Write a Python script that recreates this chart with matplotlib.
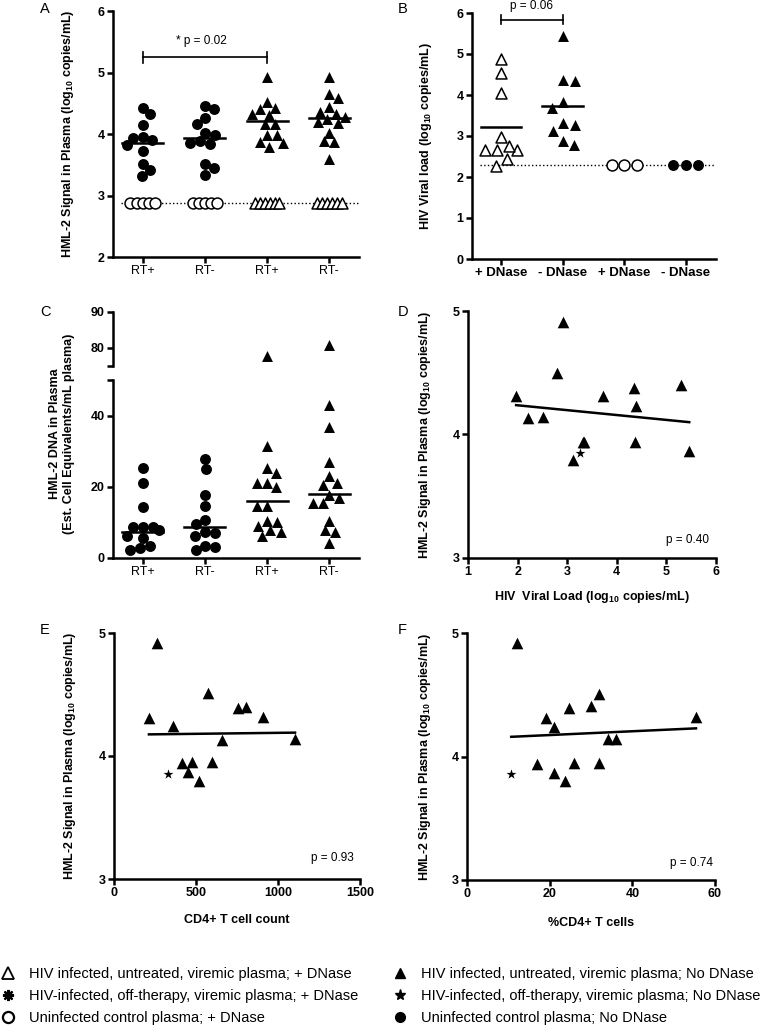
import numpy as np
import matplotlib.pyplot as plt
from matplotlib.lines import Line2D

plt.rcParams['font.family'] = 'Liberation Sans'
plt.rcParams['mathtext.fontset'] = 'custom'
plt.rcParams['mathtext.rm'] = 'Liberation Sans'
plt.rcParams['mathtext.bf'] = 'Liberation Sans:bold'

#### data ####
# A: HML-2 signal (log10 copies/mL), RT+ / RT- for uninfected and HIV plasma
a_labels = ['RT+', 'RT-', 'RT+', 'RT-']
a_uninf_rtpos = [4.43, 4.32, 4.15, 3.95, 3.94, 3.90, 3.82, 3.73, 3.52, 3.41, 3.31]
a_uninf_rtneg = [4.46, 4.41, 4.26, 4.16, 4.02, 3.98, 3.88, 3.86, 3.84, 3.52, 3.44, 3.33]
a_hiv_rtpos = [4.92, 4.52, 4.43, 4.40, 4.32, 4.31, 4.16, 4.16, 3.99, 3.98, 3.87, 3.85, 3.79]
a_hiv_rtneg = [4.93, 4.65, 4.58, 4.44, 4.36, 4.32, 4.28, 4.24, 4.20, 4.18, 4.02, 3.88, 3.87, 3.60]
a_lod = 2.87
a_lod_counts = [5, 5, 6, 6]
a_means = [3.86, 3.93, 4.21, 4.26]

# B: HIV viral load (log10 copies/mL)
b_labels = ['+ DNase', '- DNase', '+ DNase', '- DNase']
b_hiv_dnase = [4.88, 4.54, 4.05, 2.98, 2.65, 2.65, 2.65, 2.75, 2.45, 2.28]
b_hiv_nodnase = [5.45, 4.37, 4.33, 3.83, 3.68, 3.32, 3.28, 3.13, 2.87, 2.77]
b_ctrl_dnase = [2.3, 2.3, 2.3]
b_ctrl_nodnase = [2.3, 2.3, 2.3]
b_means = [3.21, 3.72]
b_lod = 2.3

# C: HML-2 DNA (cell equivalents / mL plasma)
c_labels = ['RT+', 'RT-', 'RT+', 'RT-']
c_uninf_rtpos = [25.4, 21.0, 14.2, 8.6, 8.6, 8.6, 7.9, 6.3, 5.5, 3.5, 2.7, 2.3]
c_uninf_rtneg = [27.9, 25.1, 17.6, 14.5, 10.7, 9.5, 7.2, 6.9, 6.3, 3.5, 3.0, 2.3]
c_hiv_rtpos = [77.8, 31.4, 25.3, 23.9, 21.2, 21.2, 19.9, 14.7, 14.7, 10.5, 10.0, 9.1, 7.9, 7.4, 6.3]
c_hiv_rtneg = [80.8, 43.1, 36.8, 27.1, 22.9, 21.0, 20.6, 17.7, 16.8, 15.4, 15.4, 10.5, 7.9, 7.4, 4.1]
c_centers = [7.4, 8.6, 16.1, 18.0]

# D: HML-2 signal vs HIV viral load
d_vl = [1.97, 2.21, 2.52, 2.80, 2.91, 3.11, 3.31, 3.34, 3.73, 4.34, 4.38, 4.36, 5.30, 5.46]
d_hml = [4.31, 4.13, 4.14, 4.50, 4.91, 3.79, 3.94, 3.94, 4.31, 4.38, 4.23, 3.94, 4.40, 3.87]
d_star_vl = [3.26]
d_star_hml = [3.85]

# E: HML-2 signal vs CD4+ T cell count
e_cd4 = [260, 213, 358, 575, 754, 803, 911, 661, 1104, 413, 474, 449, 600, 520]
e_hml = [4.92, 4.31, 4.24, 4.51, 4.39, 4.40, 4.32, 4.13, 4.14, 3.94, 3.95, 3.87, 3.95, 3.80]
e_star_cd4 = [329]
e_star_hml = [3.85]

# F: HML-2 signal vs %CD4+ T cells
f_pct = [12.1, 19.0, 21.0, 24.7, 29.9, 32.0, 55.4, 34.0, 36.0, 17.0, 25.9, 32.0, 21.0, 23.6]
f_hml = [4.92, 4.31, 4.24, 4.39, 4.41, 4.51, 4.32, 4.14, 4.14, 3.94, 3.95, 3.95, 3.87, 3.80]
f_star_pct = [10.7]
f_star_hml = [3.86]

legend_labels = ['HIV infected, untreated, viremic plasma; + DNase',
                 'HIV-infected, off-therapy, viremic plasma; + DNase',
                 'Uninfected control plasma; + DNase',
                 'HIV infected, untreated, viremic plasma; No DNase',
                 'HIV-infected, off-therapy, viremic plasma; No DNase',
                 'Uninfected control plasma; No DNase']

W, H = 777, 1031
fig = plt.figure(figsize=(W / 100, H / 100), dpi=100)

MS = 62  # marker area
YLAB = r'HML-2 Signal in Plasma (log$_{\mathbf{10}}$ copies/mL)'


def box(l, r, t, b):
    # pixel box -> figure fraction
    return [l / W, 1 - b / H, (r - l) / W, (b - t) / H]


def style(ax, hide_bottom=False):
    for s in ['top', 'right']:
        ax.spines[s].set_visible(False)
    for s in ['left', 'bottom']:
        ax.spines[s].set_linewidth(1.8)
    if hide_bottom:
        ax.spines['bottom'].set_visible(False)
        ax.set_xticks([])
    ax.tick_params(width=1.8, length=4, direction='out', pad=2)
    for t in ax.get_yticklabels():
        t.set_fontweight('bold')
        t.set_fontsize(9)


def swarm(ax, vals, d, wmax=16):
    # beeswarm inside a limited width: returns x offsets (data units)
    bb = ax.get_window_extent()
    x0, x1 = ax.get_xlim()
    y0, y1 = ax.get_ylim()
    px = bb.width / (x1 - x0)
    py = bb.height / (y1 - y0)
    vals = np.asarray(vals, float)
    offs = np.zeros(len(vals))
    placed = []
    side = 1
    grid = list(np.linspace(-wmax, wmax, 33))
    for i in np.argsort(-vals, kind='stable'):
        y = vals[i] * py
        cands = [0.0] + grid
        for xj, yj in placed:
            dy = y - yj
            if abs(dy) < d:
                dx = np.sqrt(d * d - dy * dy)
                cands += [c for c in (xj + dx, xj - dx) if abs(c) <= wmax]
        cands = sorted(cands, key=lambda c: (round(abs(c), 3), -side * c))

        def mind(c):
            if not placed:
                return np.inf
            return min(np.hypot(c - xj, y - yj) for xj, yj in placed)

        ok = [c for c in cands if mind(c) >= d - 1e-6]
        c = ok[0] if ok else max(cands, key=mind)
        if c != 0:
            side = -side
        offs[i] = c
        placed.append((c, y))
    return offs / px


def bold_label(ax, text, axis='y', coord=-0.15):
    if axis == 'y':
        ax.set_ylabel(text, fontweight='bold', fontsize=9)
        ax.yaxis.set_label_coords(coord, 0.5)
    else:
        ax.set_xlabel(text, fontweight='bold', fontsize=9)
        ax.xaxis.set_label_coords(0.5, coord)


#### Panel A ####
axA = fig.add_axes(box(113, 359, 11, 257))
axA.set_xlim(-0.48, 3.48)
axA.set_ylim(2, 6)
groups = [a_uninf_rtpos, a_uninf_rtneg, a_hiv_rtpos, a_hiv_rtneg]
marks = ['o', 'o', '^', '^']
axA.plot([-0.35, 3.48], [a_lod, a_lod], ':', color='black', lw=1, zorder=1)
for i, (vals, m) in enumerate(zip(groups, marks)):
    axA.scatter(i + swarm(axA, vals, 10), vals, marker=m, s=MS, c='black', linewidths=0, zorder=3)
    n = a_lod_counts[i]
    axA.scatter(i + np.linspace(-0.2, 0.2, n), [a_lod] * n, marker=m, s=MS,
                facecolors='white', edgecolors='black', linewidths=1.1, zorder=2)
    axA.plot([i - 0.33, i + 0.33], [a_means[i]] * 2, color='black', lw=1.8, zorder=4)
axA.plot([0, 2], [5.25, 5.25], color='black', lw=1.2)
axA.plot([0, 0], [5.16, 5.34], color='black', lw=1.2)
axA.plot([2, 2], [5.16, 5.34], color='black', lw=1.2)
axA.text(0.95, 5.42, '* p = 0.02', ha='center', va='bottom', fontsize=8.5)
axA.set_xticks(range(4))
axA.set_xticklabels(a_labels, fontsize=9)
axA.set_yticks([2, 3, 4, 5, 6])
style(axA)
bold_label(axA, YLAB, 'y', -0.15)

#### Panel B ####
axB = fig.add_axes(box(472, 716, 13, 259))
axB.set_xlim(-0.47, 3.49)
axB.set_ylim(0, 6)
axB.plot([-0.34, 3.47], [b_lod, b_lod], ':', color='black', lw=1, zorder=1)
b_groups = [b_hiv_dnase, b_hiv_nodnase, b_ctrl_dnase, b_ctrl_nodnase]
b_marks = ['^', '^', 'o', 'o']
b_filled = [False, True, False, True]
for i, (vals, m, f) in enumerate(zip(b_groups, b_marks, b_filled)):
    xo = i + swarm(axB, vals, 12.5)
    if f:
        axB.scatter(xo, vals, marker=m, s=MS, c='black', linewidths=0, zorder=3)
    else:
        axB.scatter(xo, vals, marker=m, s=MS, facecolors='white', edgecolors='black',
                    linewidths=1.1, zorder=3)
for i, mv in enumerate(b_means):
    axB.plot([i - 0.33, i + 0.33], [mv, mv], color='black', lw=1.8, zorder=4)
axB.plot([0, 1], [5.84, 5.84], color='black', lw=1.2, clip_on=False)
axB.plot([0, 0], [5.74, 5.94], color='black', lw=1.2, clip_on=False)
axB.plot([1, 1], [5.74, 5.94], color='black', lw=1.2, clip_on=False)
axB.text(0.5, 6.02, 'p = 0.06', ha='center', va='bottom', fontsize=8.5)
axB.set_xticks(range(4))
axB.set_xticklabels(b_labels, fontsize=9.5, fontweight='bold')
axB.set_yticks(range(7))
style(axB)
bold_label(axB, r'HIV Viral load (log$_{\mathbf{10}}$ copies/mL)', 'y', -0.156)

#### Panel C (broken axis) ####
axCt = fig.add_axes(box(113, 359, 312, 366))
axCb = fig.add_axes(box(113, 359, 380, 558))
for ax in (axCt, axCb):
    ax.set_xlim(-0.48, 3.48)
axCt.set_ylim(75, 90)
axCb.set_ylim(0, 50)
c_groups = [c_uninf_rtpos, c_uninf_rtneg, c_hiv_rtpos, c_hiv_rtneg]
for i, (vals, m) in enumerate(zip(c_groups, marks)):
    vals = np.array(vals)
    lo = vals[vals < 50]
    hi = vals[vals >= 75]
    axCb.scatter(i + swarm(axCb, lo, 10), lo, marker=m, s=MS, c='black', linewidths=0, zorder=3)
    if len(hi):
        axCt.scatter(np.full(len(hi), i), hi, marker=m, s=MS, c='black', linewidths=0, zorder=3)
    axCb.plot([i - 0.33, i + 0.33], [c_centers[i]] * 2, color='black', lw=1.8, zorder=4)
axCt.set_yticks([75, 80, 90])
axCt.set_yticklabels(['', '80', '90'])
axCb.set_yticks([0, 20, 40, 50])
axCb.set_yticklabels(['0', '20', '40', ''])
axCb.set_xticks(range(4))
axCb.set_xticklabels(c_labels, fontsize=9)
style(axCt, hide_bottom=True)
style(axCb)
fig.text(62 / W, 1 - 434 / H, 'HML-2 DNA in Plasma\n(Est. Cell Equivalents/mL plasma)',
         rotation=90, ha='center', va='center', fontweight='bold', fontsize=9,
         multialignment='center')


#### Panels D-F (correlations) ####
def corr_panel(rect, xs, ys, sx, sy, xlim, xticks, xlabel, ptxt, ppos, ylab_x, xlab_y):
    ax = fig.add_axes(rect)
    ax.set_xlim(*xlim)
    ax.set_ylim(3, 5)
    ax.scatter(xs, ys, marker='^', s=70, c='black', linewidths=0, zorder=3)
    ax.scatter(sx, sy, marker='*', s=55, c='black', linewidths=0, zorder=3)
    allx = np.r_[xs, sx]
    ally = np.r_[ys, sy]
    k, b = np.polyfit(allx, ally, 1)
    xx = np.array([allx.min(), allx.max()])
    ax.plot(xx, k * xx + b, color='black', lw=1.8, zorder=2)
    ax.text(ppos[0], ppos[1], ptxt, transform=ax.transAxes, ha='right', va='center', fontsize=8.5)
    ax.set_xticks(xticks)
    ax.set_yticks([3, 4, 5])
    style(ax)
    for t in ax.get_xticklabels():
        t.set_fontweight('bold')
        t.set_fontsize(9)
    bold_label(ax, YLAB, 'y', ylab_x)
    bold_label(ax, xlabel, 'x', xlab_y)
    return ax


corr_panel(box(468, 716, 311, 558), d_vl, d_hml, d_star_vl, d_star_hml, (1, 6), range(1, 7),
           r'HIV  Viral Load (log$_{\mathbf{10}}$ copies/mL)', 'p = 0.40', (0.97, 0.073), -0.141, -0.125)
corr_panel(box(114, 360, 633, 879), e_cd4, e_hml, e_star_cd4, e_star_hml, (0, 1500),
           [0, 500, 1000, 1500], 'CD4+ T cell count', 'p = 0.93', (0.976, 0.085), -0.146, -0.142)
corr_panel(box(467, 715, 633, 880), f_pct, f_hml, f_star_pct, f_star_hml, (0, 60),
           [0, 20, 40, 60], '%CD4+ T cells', 'p = 0.74', (0.99, 0.069), -0.137, -0.15)

# panel letters
for letter, (px, py) in zip('ABCDEF', [(40, 2), (398, 2), (40, 305), (398, 305), (40, 623), (398, 623)]):
    fig.text(px / W, 1 - py / H, letter, ha='left', va='top', fontsize=10.5)

#### legend ####
handles = [
    Line2D([], [], ls='none', marker='^', ms=8, mfc='white', mec='black', mew=1.3),
    Line2D([], [], ls='none', marker=(8, 2, 0), ms=8, color='black', mew=1.6),
    Line2D([], [], ls='none', marker='o', ms=8, mfc='white', mec='black', mew=1.6),
    Line2D([], [], ls='none', marker='^', ms=7, color='black'),
    Line2D([], [], ls='none', marker='*', ms=8, color='black'),
    Line2D([], [], ls='none', marker='o', ms=7, color='black'),
]
fig.legend(handles, legend_labels, loc='upper left', bbox_to_anchor=(0, 1 - 967 / H), ncol=2,
           frameon=False, fontsize=10.5, handlelength=1.1, handletextpad=0.9,
           columnspacing=2.3, labelspacing=0.55, borderaxespad=0, borderpad=0)

fig.savefig('out.png', dpi=100)
